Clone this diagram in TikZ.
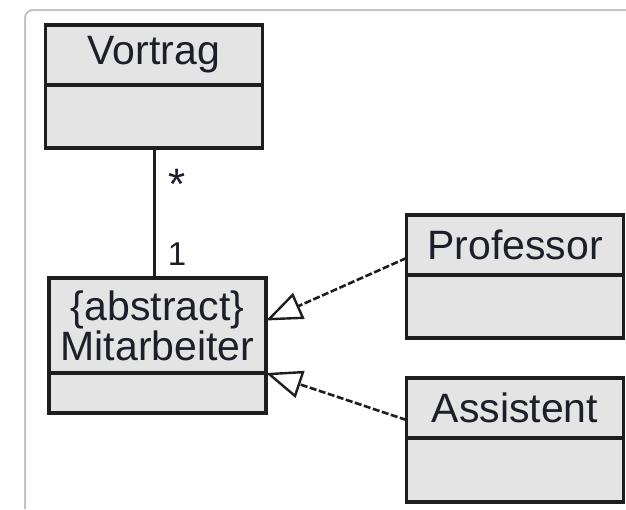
\documentclass[tikz,border=0pt]{standalone}
\usepackage{fontspec}
\setmainfont{Liberation Sans}
\usetikzlibrary{arrows.meta,calc}
\definecolor{boxfill}{HTML}{E4E4E4}
\definecolor{boxline}{HTML}{1E1E1E}
\definecolor{framec}{HTML}{C4C4C4}
\definecolor{txt}{HTML}{1C1F2A}
\begin{document}
\begin{tikzpicture}[x=1pt,y=-1pt,
  part/.style={draw=boxline, fill=boxfill, line width=3.5pt, inner sep=0pt, outer sep=0pt,
    minimum width=217pt, text=txt, font=\fontsize{41}{40}\selectfont, align=center},
  conn/.style={draw=boxline, line width=3pt},
  gen/.style={draw=boxline, line width=2.6pt, dash pattern=on 7pt off 2.5pt,
    -{Triangle[open, length=36pt, width=28pt, line width=2.4pt]}},
  mult/.style={text=txt, inner sep=0pt}]
\useasboundingbox (0,0) rectangle (626,509);
\fill[white] (0,0) rectangle (626,509);
\draw[framec, line width=2pt, rounded corners=8pt] (25,509) -- (25,10) -- (630,10);
% Vortrag
\node[part, minimum height=60pt] (vorth) at (154,55) {Vortrag};
\node[part, minimum height=63pt] (vortb) at (154,116.5) {};
% Mitarbeiter
\node[part, minimum height=95pt] (mith) at (157.5,325.5) {\{abstract\}\\Mitarbeiter};
\node[part, minimum height=40pt] (mitb) at (157.5,393) {};
% Professor
\node[part, minimum height=60pt] (profh) at (515,245) {Professor};
\node[part, minimum height=63pt] (profb) at (515,306.5) {};
% Assistent
\node[part, minimum height=60pt] (assh) at (515,408) {Assistent};
\node[part, minimum height=64pt] (assb) at (515,470) {};
% association
\draw[conn] (vortb.south) -- (vortb.south |- mith.north);
\node[mult, font=\fontsize{44}{44}\selectfont] (star) at (177,184) {*};
\node[mult, font=\fontsize{33}{33}\selectfont] (one) at (177,254) {1};
% generalisations
\draw[gen] ([yshift=-13pt]profh.west) -- ([yshift=5pt]mith.east);
\draw[gen] ([yshift=-12pt]assh.west) -- (mitb.north east);
\end{tikzpicture}
\end{document}
